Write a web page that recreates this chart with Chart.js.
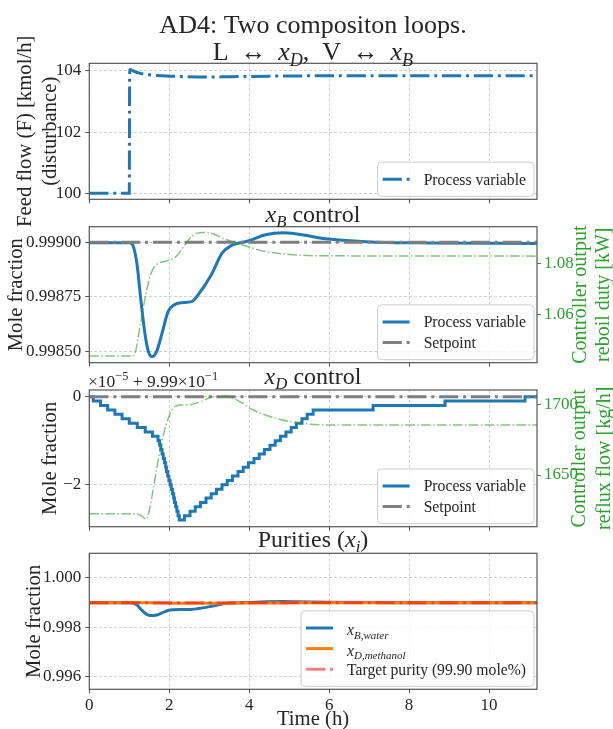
<!DOCTYPE html>
<html>
<head>
<meta charset="utf-8">
<title>AD4 composition loops</title>
<script src="https://cdn.jsdelivr.net/npm/chart.js@4.4.1/dist/chart.umd.min.js"></script>
<style>
  body { margin: 0; background: #fff; }
  #wrap { position: relative; width: 613px; height: 729px; }
  #wrap canvas { position: absolute; left: 0; top: 0; }
</style>
</head>
<body>
<div id="wrap">
  <canvas id="feedChart" width="613" height="729"></canvas>
  <canvas id="xbChart" width="613" height="729"></canvas>
  <canvas id="xdChart" width="613" height="729"></canvas>
  <canvas id="purityChart" width="613" height="729"></canvas>
</div>
<script>
// shared time axis (h)
const tMax = 11.2;
const timeTicks = [0, 2, 4, 6, 8, 10];

// feed flow step (disturbance), kmol/h
const feedTime = [0, 1.0, 1.01, 1.1, 1.25, 1.43, 1.7, 2.02, 2.4, 2.85, 3.5, 4.5, 6.0, 8.0, 11.2];
const feedFlow = [100, 100, 104.05, 104.0, 103.93, 103.89, 103.85, 103.83, 103.81, 103.80, 103.81, 103.83, 103.84, 103.84, 103.84];
const feedTicks = [100, 102, 104];

// bottoms composition x_B and reboil duty
const xbTime = [0, 1.0, 1.06, 1.19, 1.29, 1.39, 1.48, 1.57, 1.68, 1.82, 1.97, 2.12, 2.31, 2.56, 2.70, 3.05, 3.32, 3.53, 3.97, 4.41, 4.85, 5.2, 5.98, 7.05, 8.5, 11.2];
const xbValue = [0.998998, 0.998998, 0.998995, 0.998904, 0.998735, 0.998583, 0.998498, 0.998476, 0.998498, 0.998583, 0.998682, 0.998713, 0.998723, 0.998728, 0.998754, 0.99885, 0.99895, 0.998983, 0.999006, 0.999035, 0.999044, 0.999038, 0.999015, 0.999002, 0.998997, 0.998995];
const xbSetpoint = 0.999;
const xbTicks = [0.9985, 0.99875, 0.999];

const reboilTime = [0, 1.08, 1.15, 1.23, 1.32, 1.42, 1.55, 1.7, 1.9, 2.17, 2.36, 2.56, 2.75, 2.9, 3.1, 3.34, 3.6, 3.83, 4.1, 4.41, 4.9, 5.59, 6.57, 11.2];
const reboilDuty = [1.0437, 1.0437, 1.0450, 1.0520, 1.0600, 1.0685, 1.0765, 1.0800, 1.0810, 1.0829, 1.0868, 1.0908, 1.0923, 1.0924, 1.0919, 1.0901, 1.0887, 1.0875, 1.0862, 1.0849, 1.0839, 1.0833, 1.0832, 1.0831];
const reboilTicks = [1.06, 1.08];

// distillate composition x_D, deviation from 0.999 in units of 1e-5 (1e-6 resolution)
const xdTime = [0, 0.1, 0.28, 0.46, 0.64, 0.82, 1.0, 1.2, 1.4, 1.58,
  1.72, 1.76, 1.79, 1.82, 1.85, 1.88, 1.91, 1.93, 1.96, 1.99, 2.02, 2.05, 2.08, 2.11, 2.13, 2.16, 2.19, 2.22, 2.25,
  2.38, 2.52, 2.65, 2.78, 2.92, 3.05, 3.18, 3.32, 3.45, 3.58, 3.72, 3.85, 3.98, 4.12, 4.25, 4.38, 4.52, 4.65, 4.78, 4.92, 5.05, 5.18, 5.32, 5.45, 5.6,
  7.1, 8.9, 10.9, 11.2];
const xdDev = [0, -0.1, -0.2, -0.3, -0.4, -0.5, -0.6, -0.7, -0.8, -0.9,
  -1.0, -1.1, -1.2, -1.3, -1.4, -1.5, -1.6, -1.7, -1.8, -1.9, -2.0, -2.1, -2.2, -2.3, -2.4, -2.5, -2.6, -2.7, -2.8,
  -2.7, -2.6, -2.5, -2.4, -2.3, -2.2, -2.1, -2.0, -1.9, -1.8, -1.7, -1.6, -1.5, -1.4, -1.3, -1.2, -1.1, -1.0, -0.9, -0.8, -0.7, -0.6, -0.5, -0.4, -0.3,
  -0.2, -0.1, 0, 0];
const xdSetpoint = 0;
const xdTicks = [-2, 0];

const refluxTime = [0, 1.1, 1.3, 1.42, 1.5, 1.6, 1.68, 1.8, 1.93, 2.05, 2.14, 2.3, 2.5, 2.77, 3.1, 3.43, 3.77, 4.1, 4.6, 5.2, 5.8, 6.5, 11.2];
const refluxFlow = [1622.8, 1622.8, 1621.5, 1618.8, 1625, 1640, 1653.5, 1672, 1686, 1695, 1698.1, 1699.3, 1699.5, 1701.6, 1705.1, 1705.6, 1701.6, 1695.8, 1690.5, 1686.8, 1685.4, 1685.2, 1685.2];
const refluxTicks = [1650, 1700];

// product purities
const targetPurity = 0.999;
const purityTicks = [0.996, 0.998, 1.0];

const SERIF = "'Liberation Serif', 'DejaVu Serif', serif";
const INK = '#262626';
const AXIS = '#555555';
const GRID = 'rgba(176,176,176,0.75)';
const BLUE = '#1f77b4', ORANGE = '#ff7f0e', GREY = '#7f7f7f';
const GREEN = '#2ca02c', GREEN_LINE = 'rgba(44,160,44,0.6)';
const TARGET = 'rgba(255,0,0,0.5)';
const LEFT = 89.3, RIGHT = 537, W = 613, H = 729;
const TICK_SIZE = 17;

const dashDot = (w) => [6.4 * w, 1.6 * w, 1 * w, 1.6 * w];
const pts = (xs, ys) => xs.map((x, i) => ({ x: x, y: ys[i] }));
const flat = (v) => [{ x: 0, y: v }, { x: tMax, y: v }];

// text with italic / sub / superscript pieces
function segFont(s, size) {
  const sz = (s.sub || s.sup) ? size * 0.7 : size;
  return (s.it ? 'italic ' : '') + sz + 'px ' + SERIF;
}
function richWidth(ctx, segs, size) {
  let w = 0;
  for (const s of segs) { ctx.font = segFont(s, size); w += ctx.measureText(s.t).width; }
  return w;
}
function drawRich(ctx, segs, x, y, size, color, align) {
  const w = richWidth(ctx, segs, size);
  let cx = align === 'center' ? x - w / 2 : align === 'right' ? x - w : x;
  ctx.fillStyle = color;
  ctx.textBaseline = 'alphabetic';
  ctx.textAlign = 'left';
  for (const s of segs) {
    ctx.font = segFont(s, size);
    const dy = s.sub ? size * 0.22 : s.sup ? -size * 0.38 : 0;
    ctx.fillText(s.t, cx, y + dy);
    cx += ctx.measureText(s.t).width;
  }
}
function drawVertical(ctx, segs, cx, cy, size, color) {
  ctx.save();
  ctx.translate(cx, cy);
  ctx.rotate(-Math.PI / 2);
  drawRich(ctx, segs, 0, size * 0.3, size, color, 'center');
  ctx.restore();
}
const txt = (t) => [{ t: t }];

function drawFrame(chart) {
  const { ctx, chartArea: a } = chart;
  ctx.save();
  ctx.strokeStyle = AXIS;
  ctx.lineWidth = 1.2;
  ctx.setLineDash([]);
  ctx.strokeRect(a.left, a.top, a.right - a.left, a.bottom - a.top);
  ctx.restore();
}

function drawLegend(chart, items) {
  const { ctx, chartArea: a } = chart;
  const size = 15.7, rowH = 20.6, padY = 6.8;
  let textW = 0;
  items.forEach((it) => { textW = Math.max(textW, richWidth(ctx, it.label, size)); });
  const w = 46 + textW + 8;
  const h = padY * 2 + rowH * items.length;
  const x0 = a.right - 3 - w, y0 = a.bottom - 3 - h;
  ctx.save();
  ctx.beginPath();
  ctx.roundRect(x0, y0, w, h, 4);
  ctx.fillStyle = 'rgba(255,255,255,0.8)';
  ctx.fill();
  ctx.strokeStyle = '#cccccc';
  ctx.lineWidth = 1;
  ctx.stroke();
  items.forEach((it, i) => {
    const cy = y0 + padY + rowH * (i + 0.5);
    ctx.beginPath();
    ctx.setLineDash(it.dash || []);
    ctx.strokeStyle = it.color;
    ctx.lineWidth = it.width;
    ctx.moveTo(x0 + 5, cy);
    ctx.lineTo(x0 + 32, cy);
    ctx.stroke();
    ctx.setLineDash([]);
    drawRich(ctx, it.label, x0 + 46, cy + 5.3 + (it.drop || 0), size, INK, 'left');
  });
  ctx.restore();
}

function xScale(showLabels, h) {
  return {
    type: 'linear', min: 0, max: tMax,
    afterBuildTicks: (s) => { s.ticks = timeTicks.map((v) => ({ value: v })); },
    afterFit: (s) => { s.height = h; },
    grid: { color: GRID, lineWidth: 0.8, tickLength: 4, tickColor: AXIS, tickWidth: 1 },
    border: { display: false, dash: [3, 2] },
    ticks: { display: showLabels, callback: (v) => String(v), font: { family: SERIF, size: TICK_SIZE }, color: INK, padding: 2, maxRotation: 0 }
  };
}
function yLeft(min, max, ticks, fmt) {
  return {
    type: 'linear', position: 'left', min: min, max: max,
    afterBuildTicks: (s) => { s.ticks = ticks.map((v) => ({ value: v })); },
    afterFit: (s) => { s.width = LEFT; },
    grid: { color: GRID, lineWidth: 0.8, tickLength: 4, tickColor: AXIS, tickWidth: 1 },
    border: { display: false, dash: [3, 2] },
    ticks: { callback: fmt, font: { family: SERIF, size: TICK_SIZE }, color: INK, padding: 4 }
  };
}
function yRight(min, max, ticks, fmt) {
  return {
    type: 'linear', position: 'right', min: min, max: max,
    afterBuildTicks: (s) => { s.ticks = ticks.map((v) => ({ value: v })); },
    afterFit: (s) => { s.width = W - RIGHT; },
    grid: { drawOnChartArea: false, tickLength: 4, tickColor: GREEN, tickWidth: 1 },
    border: { display: false },
    ticks: { callback: fmt, font: { family: SERIF, size: TICK_SIZE }, color: GREEN, padding: 3 }
  };
}
function line(data, color, width, extra) {
  return Object.assign({
    data: data, borderColor: color, borderWidth: width, pointRadius: 0,
    fill: false, cubicInterpolationMode: 'monotone'
  }, extra || {});
}
function baseOptions(top, bottom, xh, hasRight, scales) {
  return {
    responsive: false, animation: false, devicePixelRatio: 1, events: [],
    layout: { padding: { top: top, bottom: H - bottom - xh, left: 0, right: hasRight ? 0 : W - RIGHT } },
    plugins: { legend: { display: false }, tooltip: { enabled: false } },
    scales: scales
  };
}

// panel 1: feed flow
new Chart(document.getElementById('feedChart'), {
  type: 'line',
  data: { datasets: [
    line(pts(feedTime, feedFlow), BLUE, 3, { borderDash: dashDot(3) })
  ] },
  options: baseOptions(63.3, 199.3, 4, false, {
    x: xScale(false, 4),
    y: yLeft(99.8, 104.25, feedTicks, (v) => String(v))
  }),
  plugins: [{
    id: 'feedDecor',
    afterDraw(chart) {
      const ctx = chart.ctx;
      drawFrame(chart);
      drawRich(ctx, txt('AD4: Two compositon loops.'), 313, 32.5, 26, INK, 'center');
      drawRich(ctx, [{ t: 'L \u2009↔\u2009 ' }, { t: 'x', it: true }, { t: 'D', it: true, sub: true }, { t: ',  V \u2009↔\u2009 ' },
        { t: 'x', it: true }, { t: 'B', it: true, sub: true }], 313, 60, 26, INK, 'center');
      drawVertical(ctx, txt('Feed flow (F) [kmol/h]'), 25, 131.3, 20.7, INK);
      drawVertical(ctx, txt('(disturbance)'), 49.5, 131.3, 20.7, INK);
      drawLegend(chart, [{ label: txt('Process variable'), color: BLUE, width: 3, dash: dashDot(3) }]);
    }
  }]
});

// panel 2: x_B loop
new Chart(document.getElementById('xbChart'), {
  type: 'line',
  data: { datasets: [
    line(pts(reboilTime, reboilDuty), GREEN_LINE, 1.5, { yAxisID: 'y2', borderDash: dashDot(1.5), order: 0 }),
    line(flat(xbSetpoint), GREY, 3, { borderDash: dashDot(3), order: 1 }),
    line(pts(xbTime, xbValue), BLUE, 3, { order: 2 })
  ] },
  options: baseOptions(226.7, 362.7, 4, true, {
    x: xScale(false, 4),
    y: yLeft(0.998448, 0.9990716, xbTicks, (v) => v.toFixed(5)),
    y2: yRight(1.0411, 1.0947, reboilTicks, (v) => v.toFixed(2))
  }),
  plugins: [{
    id: 'xbDecor',
    afterDraw(chart) {
      const ctx = chart.ctx;
      drawFrame(chart);
      drawRich(ctx, [{ t: 'x', it: true }, { t: 'B', it: true, sub: true }, { t: ' control' }], 313, 222, 24, INK, 'center');
      drawVertical(ctx, txt('Mole fraction'), 16, 294.7, 20.7, INK);
      drawVertical(ctx, txt('Controller output'), 580, 294.7, 20, GREEN);
      drawVertical(ctx, txt('reboil duty [kW]'), 603, 294.7, 20, GREEN);
      drawLegend(chart, [
        { label: txt('Process variable'), color: BLUE, width: 3 },
        { label: txt('Setpoint'), color: GREY, width: 3, dash: dashDot(3) }
      ]);
    }
  }]
});

// panel 3: x_D loop
new Chart(document.getElementById('xdChart'), {
  type: 'line',
  data: { datasets: [
    line(pts(refluxTime, refluxFlow), GREEN_LINE, 1.5, { yAxisID: 'y2', borderDash: dashDot(1.5), order: 0 }),
    line(flat(xdSetpoint), GREY, 3, { borderDash: dashDot(3), order: 1 }),
    line(pts(xdTime, xdDev), BLUE, 3, { stepped: true, order: 2 })
  ] },
  options: baseOptions(390, 526.7, 4, true, {
    x: xScale(false, 4),
    y: yLeft(-2.95, 0.152, xdTicks, (v) => (v < 0 ? '\u2212' + Math.abs(v) : String(v))),
    y2: yRight(1613.6, 1709.9, refluxTicks, (v) => String(v))
  }),
  plugins: [{
    id: 'xdDecor',
    afterDraw(chart) {
      const ctx = chart.ctx;
      drawFrame(chart);
      drawRich(ctx, [{ t: 'x', it: true }, { t: 'D', it: true, sub: true }, { t: ' control' }], 313, 384, 24, INK, 'center');
      drawRich(ctx, [{ t: '×10' }, { t: '\u22125', sup: true }, { t: ' + 9.99×10' }, { t: '\u22121', sup: true }], 88, 387, 17.5, INK, 'left');
      drawVertical(ctx, txt('Mole fraction'), 50, 458.3, 20.7, INK);
      drawVertical(ctx, txt('Controller output'), 579, 458.3, 20, GREEN);
      drawVertical(ctx, txt('reflux flow [kg/h]'), 604, 458.3, 20, GREEN);
      drawLegend(chart, [
        { label: txt('Process variable'), color: BLUE, width: 3 },
        { label: txt('Setpoint'), color: GREY, width: 3, dash: dashDot(3) }
      ]);
    }
  }]
});

// panel 4: purities
new Chart(document.getElementById('purityChart'), {
  type: 'line',
  data: { datasets: [
    line(flat(targetPurity), TARGET, 3, { borderDash: dashDot(3), order: 0 }),
    line(pts(xdTime, xdDev.map((d) => 0.999 + d * 1e-5)), ORANGE, 3, { stepped: true, order: 1 }),
    line(pts(xbTime, xbValue), BLUE, 3, { order: 2 })
  ] },
  options: baseOptions(553.3, 689.3, 30, false, {
    x: xScale(true, 30),
    y: yLeft(0.99549, 1.001, purityTicks, (v) => v.toFixed(3))
  }),
  plugins: [{
    id: 'purityDecor',
    afterDraw(chart) {
      const ctx = chart.ctx;
      drawFrame(chart);
      drawRich(ctx, [{ t: 'Purities (' }, { t: 'x', it: true }, { t: 'i', it: true, sub: true }, { t: ')' }], 313, 547, 24, INK, 'center');
      drawVertical(ctx, txt('Mole fraction'), 34, 621.3, 20.7, INK);
      drawRich(ctx, txt('Time (h)'), 313, 725, 20.7, INK, 'center');
      drawLegend(chart, [
        { label: [{ t: 'x', it: true }, { t: 'B,water', it: true, sub: true }], color: BLUE, width: 3, drop: 2 },
        { label: [{ t: 'x', it: true }, { t: 'D,methanol', it: true, sub: true }], color: ORANGE, width: 3, drop: 2 },
        { label: txt('Target purity (99.90 mole%)'), color: 'rgba(255,0,0,0.5)', width: 3, dash: dashDot(3) }
      ]);
    }
  }]
});
</script>
</body>
</html>
